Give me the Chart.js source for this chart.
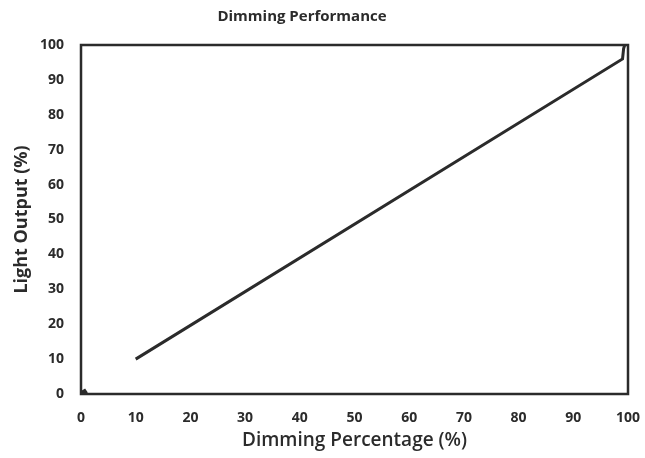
<!DOCTYPE html>
<html>
<head>
<meta charset="utf-8">
<script src="https://cdn.jsdelivr.net/npm/chart.js@4"></script>
<style>
  html, body { margin: 0; padding: 0; background: #fff; }
  #wrap { width: 645px; height: 458px; }
</style>
</head>
<body>
<div id="wrap"><canvas id="chart"></canvas></div>
<script>
const dimming = [10, 99, 99.2, 99.4];
const lightOutput = [10, 96, 99, 100];
const stubX = [0, 1];
const stubY = [0, 1];
const xTicks = [0, 10, 20, 30, 40, 50, 60, 70, 80, 90, 100];
const yTicks = [0, 10, 20, 30, 40, 50, 60, 70, 80, 90, 100];
const chartTitle = 'Dimming Performance';

const ink = '#2b2b2b';
const font = "'Open Sans', 'DejaVu Sans', sans-serif";

// plot frame plus the title, which sits a bit left of centre in the original
const boxPlugin = {
  id: 'box',
  afterDatasetsDraw(chart) {
    const { ctx, chartArea: a } = chart;
    ctx.save();
    ctx.strokeStyle = ink;
    ctx.lineWidth = 2.5;
    ctx.strokeRect(a.left, a.top, a.right - a.left, a.bottom - a.top);
    ctx.fillStyle = ink;
    ctx.font = 'bold 15px ' + font;
    ctx.textAlign = 'center';
    ctx.textBaseline = 'middle';
    ctx.fillText(chartTitle, 302, 17);
    ctx.restore();
  }
};

new Chart(document.getElementById('chart'), {
  type: 'scatter',
  data: {
    datasets: [{
      data: dimming.map((x, i) => ({ x, y: lightOutput[i] })),
      showLine: true,
      borderColor: ink,
      borderWidth: 3,
      pointRadius: 0,
      tension: 0
    }, {
      data: stubX.map((x, i) => ({ x, y: stubY[i] })),
      showLine: true,
      borderColor: ink,
      borderWidth: 5,
      pointRadius: 0
    }]
  },
  options: {
    responsive: true,
    maintainAspectRatio: false,
    animation: false,
    layout: { padding: { top: 45, right: 0, bottom: 6, left: 11 } },
    plugins: {
      legend: { display: false },
      tooltip: { enabled: false },
      title: { display: false }
    },
    scales: {
      x: {
        type: 'linear',
        min: 0,
        max: 100,
        afterBuildTicks: s => { s.ticks = xTicks.map(v => ({ value: v })); },
        afterFit: s => { s.height = 58; s.paddingRight = 17; },
        grid: { display: false, drawTicks: false },
        border: { display: false },
        ticks: {
          color: ink,
          padding: 16,
          maxRotation: 0,
          font: { family: font, size: 14, weight: 'bold' }
        },
        title: {
          display: true,
          text: 'Dimming Percentage (%)',
          color: ink,
          font: { family: font, size: 19, weight: '600' },
          padding: { top: 0, bottom: 0 }
        }
      },
      y: {
        type: 'linear',
        min: 0,
        max: 100,
        afterBuildTicks: s => { s.ticks = yTicks.map(v => ({ value: v })); },
        afterFit: s => { s.width = 70; s.paddingTop = 0; },
        grid: { display: false, drawTicks: false },
        border: { display: false },
        ticks: {
          color: ink,
          padding: 17,
          font: { family: font, size: 14, weight: 'bold' }
        },
        title: {
          display: true,
          text: 'Light Output (%)',
          color: ink,
          font: { family: font, size: 18, weight: 'bold' },
          padding: { top: 0, bottom: 6 }
        }
      }
    }
  },
  plugins: [boxPlugin]
});
</script>
</body>
</html>
